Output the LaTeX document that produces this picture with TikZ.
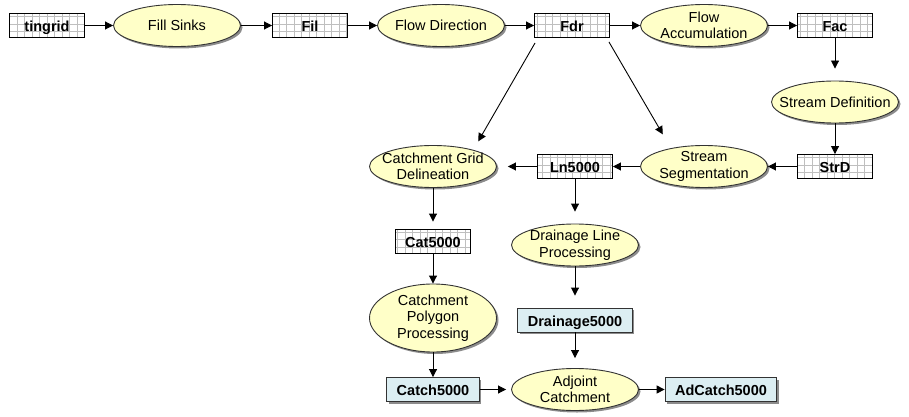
\documentclass[tikz,border=0pt]{standalone}
\usepackage{fontspec}
\setmainfont{Liberation Sans}
\usetikzlibrary{arrows.meta,shapes.geometric,shadows,calc}
\definecolor{toolfill}{RGB}{255,255,200}
\definecolor{featfill}{RGB}{220,238,242}
\tikzset{>={Triangle[length=8pt,width=8pt]},font=\fontsize{14.5}{16.5}\selectfont}
\tikzset{
  shade/.style={drop shadow={shadow xshift=2pt,shadow yshift=-2pt,fill=black!45,opacity=1}},
  tool/.style={ellipse,draw=black!80,fill=toolfill,minimum width=127pt,minimum height=42pt,
    inner xsep=-12pt,inner ysep=-1pt,align=center,shade},
  raster/.style={rectangle,draw=black,fill=white,minimum width=75pt,minimum height=24pt,
    inner sep=0pt,text height=12pt,text depth=0pt,font=\fontsize{14.5}{16.5}\selectfont\bfseries,
    path picture={\draw[black!25,step=7.5pt] (path picture bounding box.south west) grid (path picture bounding box.north east);}},
  feature/.style={rectangle,draw=black!80,fill=featfill,minimum height=24pt,inner xsep=10pt,
    inner ysep=0pt,text height=12pt,text depth=0pt,font=\fontsize{14.5}{16.5}\selectfont\bfseries,shade}
}
\begin{document}
\begin{tikzpicture}[x=1pt,y=-1pt,line width=0.9pt]
\useasboundingbox (0,0) rectangle (909,417);
% top row
\node[raster] (tingrid) at (47,25.5) {tingrid};
\node[tool] (fill) at (177,25.5) {Fill Sinks};
\node[raster] (fil) at (310,25.5) {Fil};
\node[tool] (flowdir) at (441,25.5) {Flow Direction};
\node[raster] (fdr) at (572,25.5) {Fdr};
\node[tool] (flowacc) at (704,25.5) {Flow\\Accumulation};
\node[raster] (fac) at (835,25.5) {Fac};
% stream network
\node[tool] (strdef) at (835,102) {Stream Definition};
\node[raster] (strd) at (835,166.5) {StrD};
\node[tool] (strseg) at (704,166.5) {Stream\\Segmentation};
\node[raster] (ln) at (575,166.5) {Ln5000};
\node[tool] (catgrid) at (433,166.5) {Catchment Grid\\Delineation};
% catchments
\node[raster] (cat) at (433,241) {Cat5000};
\node[tool,minimum height=68pt] (catpoly) at (433,318) {Catchment\\Polygon\\Processing};
\node[feature] (catch) at (433,389.5) {Catch5000};
% drainage lines
\node[tool] (drainline) at (575,245) {Drainage Line\\Processing};
\node[feature] (drainage) at (575,320) {Drainage5000};
\node[tool] (adjoint) at (575,389.5) {Adjoint\\Catchment};
\node[feature] (adcatch) at (721,389.5) {AdCatch5000};
\path[->] (tingrid) edge (fill);
\path[->] (fill) edge (fil);
\path[->] (fil) edge (flowdir);
\path[->] (flowdir) edge (fdr);
\path[->] (fdr) edge (flowacc);
\path[->] (flowacc) edge (fac);
\path[->] (fac) edge[shorten >=12pt] (strdef);
\path[->] (strdef) edge (strd);
\path[->] (strd) edge (strseg);
\path[->] (strseg) edge (ln);
\path[->] (ln) edge[shorten >=11pt] (catgrid);
\path[->] (ln) edge[shorten >=12pt] (drainline);
\path[->] (catgrid) edge[shorten >=7pt] (cat);
\path[->] (cat) edge (catpoly);
\path[->] (catpoly) edge (catch);
\path[->] (drainline) edge[shorten >=12pt] (drainage);
\path[->] (drainage) edge[shorten >=10pt] (adjoint);
\path[->] (catch) edge[shorten >=5pt] (adjoint);
\path[->] (adjoint) edge (adcatch);
\draw[->] ($(fdr.south west)+(1,5)$) -- ($(catgrid.north east)+(0,-10)$);
\draw[->] ($(fdr.south east)+(-1,4)$) -- ($(strseg.north west)+(4,-17)$);
\end{tikzpicture}
\end{document}
